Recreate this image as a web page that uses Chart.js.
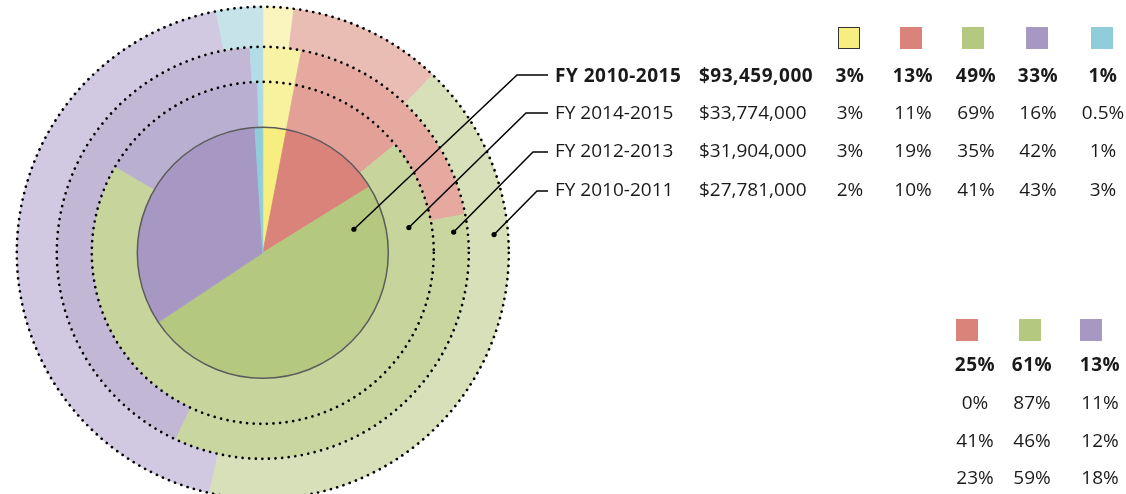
<!DOCTYPE html>
<html><head><meta charset="utf-8">
<script src="https://cdn.jsdelivr.net/npm/chart.js@4"></script>
<style>
html,body{margin:0;padding:0;background:#fff;overflow:hidden;}
#wrap{position:relative;width:1126px;height:494px;overflow:hidden;}
canvas{position:absolute;left:0;top:0;}
.t{position:absolute;font-family:'Open Sans',sans-serif;font-size:19px;line-height:19px;color:#1a1a1a;white-space:nowrap;}
.b{font-weight:700;letter-spacing:0.5px;}
.c{text-align:center;width:80px;}
.sq{position:absolute;width:22px;height:22px;box-sizing:border-box;}
</style></head>
<body><div id="wrap"><canvas id="c" width="1126" height="494"></canvas></div>
<script>
// ---------- data ----------
const categories = ['Category 1', 'Category 2', 'Category 3', 'Category 4', 'Category 5'];
const periods = ['FY 2010-2015', 'FY 2014-2015', 'FY 2012-2013', 'FY 2010-2011'];
const amounts = ['$93,459,000', '$33,774,000', '$31,904,000', '$27,781,000'];
const share2010_2015 = [3, 13, 49, 33, 1];
const share2014_2015 = [3, 11, 69, 16, 0.5];
const share2012_2013 = [3, 19, 35, 42, 1];
const share2010_2011 = [2, 10, 41, 43, 3];
const subCategories = ['Category 2', 'Category 3', 'Category 4'];
const sub2010_2015 = [25, 61, 13];
const sub2014_2015 = [0, 87, 11];
const sub2012_2013 = [41, 46, 12];
const sub2010_2011 = [23, 59, 18];

// ---------- styles ----------
const baseColors = ['#f6ee7e', '#d9837a', '#b4c97f', '#a797c3', '#8fcddb'];
const colors2014_2015 = ['#f8f29e', '#e2a097', '#c7d59c', '#b9afd1', '#a9dbe4'];
const colors2012_2013 = ['#f8f2a4', '#e5a9a0', '#c9d6a0', '#c2b8d6', '#b2dde6'];
const colors2010_2011 = ['#faf5bf', '#e9bcb4', '#d8e0b9', '#d1c9e1', '#c6e3ea'];
const ringWeights = [40, 35, 45.5, 125.5]; // outer -> inner
const outerRadius = 246;
const leaderAngles = [75.5, 80.2, 83.8, 85.5];   // deg clockwise from top, per period row
const leaderDepth = [0.75, 0.5, 0.6, 0.65];      // fraction from inner to outer edge
const rowLineY = [75, 113, 152, 191];
const elbowX = [517, 526, 533, 537];
const lineEndX = 548;

const seriesPerPeriod = [share2010_2015, share2014_2015, share2012_2013, share2010_2011];
const colorsPerPeriod = [baseColors, colors2014_2015, colors2012_2013, colors2010_2011];

// datasets outer -> inner
const order = [3, 2, 1, 0];
const datasets = order.map((p, i) => ({
  label: periods[p],
  data: seriesPerPeriod[p],
  backgroundColor: colorsPerPeriod[p],
  borderColor: colorsPerPeriod[p],
  borderWidth: 0.8,
  weight: ringWeights[i],
  clip: false
}));

const leaderPlugin = {
  id: 'leaders',
  afterDatasetsDraw(chart) {
    const ctx = chart.ctx;
    const metas = [0, 1, 2, 3].map(i => chart.getDatasetMeta(i));
    const a0 = metas[0].data[0];
    const cx = a0.x, cy = a0.y;
    ctx.save();
    // dotted ring edges
    ctx.strokeStyle = '#000';
    ctx.lineWidth = 2.7;
    ctx.lineCap = 'round';
    ctx.setLineDash([0.01, 6.6]);
    for (let i = 0; i < 3; i++) {
      const r = metas[i].data[0].outerRadius;
      ctx.beginPath(); ctx.arc(cx, cy, r, 0, Math.PI * 2); ctx.stroke();
    }
    ctx.setLineDash([]);
    ctx.lineCap = 'butt';
    // center outline
    ctx.lineWidth = 1.5;
    ctx.strokeStyle = '#5b5b5b';
    ctx.beginPath(); ctx.arc(cx, cy, metas[3].data[0].outerRadius, 0, Math.PI * 2); ctx.stroke();
    // leaders
    ctx.strokeStyle = '#000';
    ctx.fillStyle = '#000';
    ctx.lineWidth = 1.5;
    for (let p = 0; p < periods.length; p++) {
      const arc = metas[order.indexOf(p)].data[0];
      const r = arc.innerRadius + (arc.outerRadius - arc.innerRadius) * leaderDepth[p];
      const a = (leaderAngles[p] - 90) * Math.PI / 180;
      const dx = cx + r * Math.cos(a), dy = cy + r * Math.sin(a);
      ctx.beginPath();
      ctx.moveTo(dx, dy);
      ctx.lineTo(elbowX[p], rowLineY[p]);
      ctx.lineTo(lineEndX, rowLineY[p]);
      ctx.stroke();
      ctx.beginPath(); ctx.arc(dx, dy, 2.6, 0, Math.PI * 2); ctx.fill();
    }
    ctx.restore();
  }
};

new Chart(document.getElementById('c'), {
  type: 'pie',
  data: { labels: categories, datasets },
  options: {
    responsive: false,
    devicePixelRatio: 1,
    animation: false,
    radius: outerRadius,
    layout: { padding: { left: 14.8, right: 615.2, top: 11.6, bottom: 0 } },
    plugins: { legend: { display: false }, tooltip: { enabled: false } }
  },
  plugins: [leaderPlugin]
});

// ---------- text tables ----------
const wrap = document.getElementById('wrap');
const BASE = 16.9;
function txt(s, x, baseline, cls, center) {
  const d = document.createElement('div');
  d.className = 't ' + (cls || '') + (center ? ' c' : '');
  d.textContent = s;
  d.style.left = (center ? x - 40 : x) + 'px';
  d.style.top = (baseline - BASE) + 'px';
  wrap.appendChild(d);
}
function sq(color, x, y, border) {
  const d = document.createElement('div');
  d.className = 'sq';
  d.style.left = x + 'px'; d.style.top = y + 'px';
  d.style.background = color;
  if (border) d.style.border = '1.5px solid #333';
  wrap.appendChild(d);
}
const rowBase = [82.5, 120, 158, 196.5];
const pctCols = [850, 913, 976, 1038, 1103];
const swLeft = [838, 900, 962, 1026, 1091];
categories.forEach((c, i) => sq(baseColors[i], swLeft[i], 27, i === 0));
periods.forEach((p, r) => {
  const cls = r === 0 ? 'b' : '';
  txt(p, 555, rowBase[r], cls);
  txt(amounts[r], 699, rowBase[r], cls);
  seriesPerPeriod[r].forEach((v, i) => txt(v + '%', pctCols[i], rowBase[r], cls, true));
});
const subRows = [sub2010_2015, sub2014_2015, sub2012_2013, sub2010_2011];
const subBase = [372, 410, 447.5, 485];
const subCols = [975, 1032, 1100];
const subSw = [956, 1019, 1080];
const subColorIdx = subCategories.map(c => categories.indexOf(c));
subColorIdx.forEach((ci, i) => sq(baseColors[ci], subSw[i], 319, false));
subRows.forEach((row, r) => row.forEach((v, i) => txt(v + '%', subCols[i], subBase[r], r === 0 ? 'b' : '', true)));
</script>
</body></html>
